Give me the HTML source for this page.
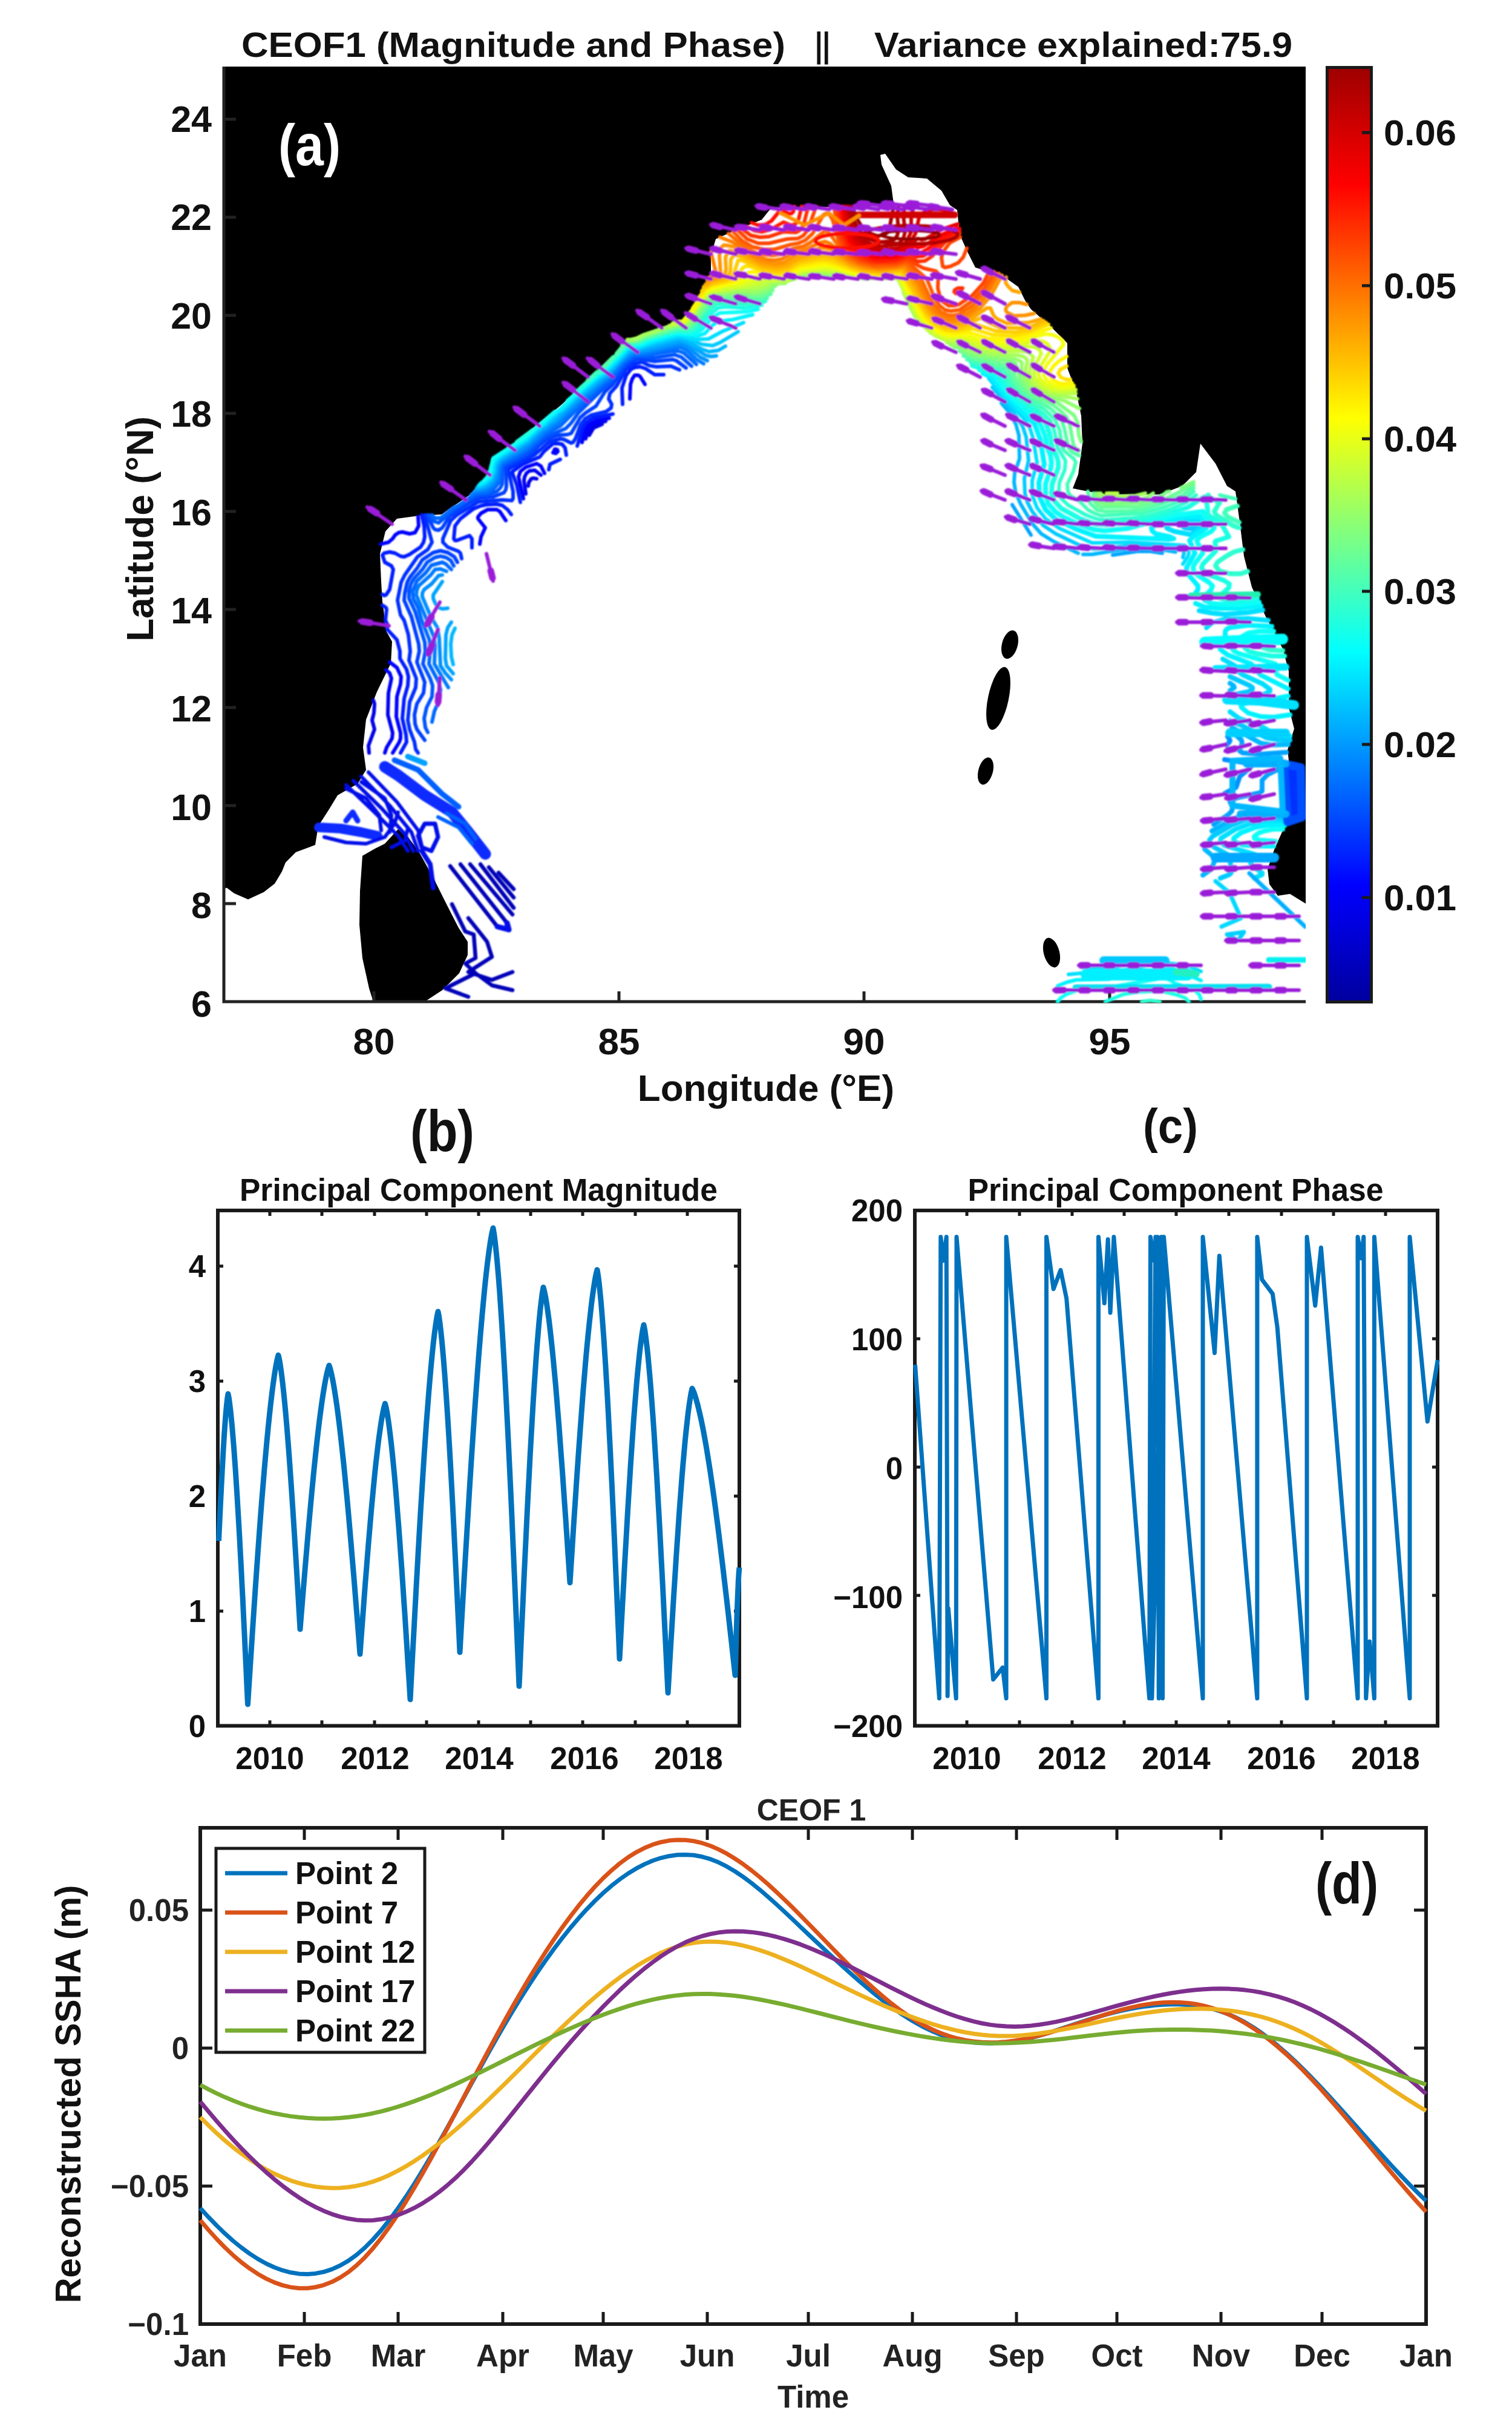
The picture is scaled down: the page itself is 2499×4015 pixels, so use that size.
<!DOCTYPE html>
<html><head><meta charset="utf-8"><title>CEOF1</title>
<style>html,body{margin:0;padding:0;background:#fff}svg{display:block}</style></head>
<body><svg width="2499" height="4015" viewBox="0 0 2499 4015">
<rect width="2499" height="4015" fill="#fff"/>
<rect x="368" y="110" width="1790" height="1545" fill="#000"/>
<polygon points="368,1655 368,1468 375,1467 387,1476 410,1486 436,1474 454,1460 466,1440 472,1425 489,1408 521,1396 526,1365 544,1337 558,1314 591,1295 605,1272 600,1235 605,1189 623,1143 646,1096 648,1060 639,1044 632,994 630,961 628,915 637,878 656,857 693,852 730,850 776,818 808,785 813,757 843,738 889,701 929,668 972,628 1012,592 1038,562 1081,546 1131,529 1150,500 1164,473 1175,454 1175,422 1183,395 1219,379 1259,363 1275,343 1338,343 1417,341 1477,337 1473,307 1457,272 1455,256 1463,254 1481,280 1501,293 1532,295 1556,315 1570,339 1582,347 1586,387 1598,414 1612,442 1632,448 1655,454 1683,474 1695,498 1704,511 1736,539 1764,567 1764,608 1778,645 1787,687 1789,733 1782,784 1773,807 1824,817 1917,817 1954,803 1977,780 1984,733 2009,766 2028,803 2042,812 2049,863 2056,919 2069,970 2093,1021 2120,1072 2130,1109 2130,1169 2139,1204 2128,1239 2135,1300 2123,1366 2107,1401 2095,1436 2098,1461 2112,1480 2132,1477 2158,1493 2158,1655" fill="#fff" />
<polygon points="599,1414 620,1402 636,1394 658,1370 674,1383 691,1405 716,1450 738,1494 758,1533 773,1556 773,1578 759,1608 731,1636 702,1655 617,1655 610,1633 599,1583 594,1528 595,1472" fill="#000" />
<ellipse cx="1669" cy="1065" rx="13" ry="24" transform="rotate(15 1669 1065)" fill="#000"/>
<ellipse cx="1650" cy="1154" rx="17" ry="53" transform="rotate(12 1650 1154)" fill="#000"/>
<ellipse cx="1629" cy="1274" rx="12" ry="23" transform="rotate(15 1629 1274)" fill="#000"/>
<ellipse cx="1738" cy="1574" rx="13" ry="25" transform="rotate(-15 1738 1574)" fill="#000"/>
<path d="M370,110 V1655 H2158" fill="none" stroke="#222" stroke-width="5"/>
<path d="M618,1655 v-17 M1023,1655 v-17 M1428,1655 v-17 M1834,1655 v-17 M370,1493 h20 M370,1331 h20 M370,1169 h20 M370,1007 h20 M370,845 h20 M370,683 h20 M370,521 h20 M370,359 h20 M370,197 h20 " fill="none" stroke="#222" stroke-width="5"/>
<defs><filter id="soft" x="-2%" y="-2%" width="104%" height="104%"><feGaussianBlur stdDeviation="1.3"/></filter><clipPath id="mapclip"><rect x="368" y="110" width="1790" height="1547"/></clipPath></defs>
<g clip-path="url(#mapclip)"><g filter="url(#soft)">
<g fill="none" stroke-width="6" stroke-linecap="round" stroke-linejoin="round">
<path d="M995,701 981,707 974,719M887,791 881,790 878,791 874,797 873,803M610,1244 609,1232 619,1205 615,1190 618,1178 619,1163 617,1157" stroke="#0000e5"/>
<path d="M1001,696 986,699 977,704 971,713 968,725M894,785 884,777 875,778 870,782 867,788 866,794 869,816M636,1244 639,1235 648,1220 649,1211 641,1181 642,1145 647,1121 644,1112 638,1107" stroke="#0000f4"/>
<path d="M1066,635 1058,622 1055,620 1049,620 1045,626 1042,635 1041,659M1007,691 986,695 973,701 967,710 962,731M919,749 922,746 921,743 917,742 914,748 919,749M900,782 894,770 887,766 869,772 860,779 857,788 865,824M836,860 826,845 821,842 806,842 795,848 790,854 790,857 802,872 795,887 793,899M629,899 642,896 649,890 653,884 659,880 665,879 677,882 686,880 692,869 691,854M649,1244 660,1226 662,1220 662,1211 655,1184 656,1151 662,1130 663,1118 656,1103 644,1094" stroke="#0006ff"/>
<path d="M1097,619 1082,619 1067,609 1058,606 1049,607 1043,610 1035,620 1028,641 1029,668M1013,684 980,691 969,698 963,707 954,737M936,752 934,740 929,734 923,733 914,733 899,746 892,755 864,767 847,779 847,782 854,801 860,830M907,776 909,767 926,759M845,850 839,842 830,835 821,833 803,834 794,836 782,841 761,857 752,869 750,890 752,893 755,893 776,885 780,890 780,905M632,982 635,984 638,983 644,974 650,941 647,935 636,929 632,917 635,914 644,912 653,914 662,919 668,920 677,916 695,904 700,896 702,887 701,869 697,851M662,1244 672,1226 671,1214 665,1187 668,1154 674,1133 675,1118 672,1106 661,1088 661,1076 656,1057 640,1040 640,1031 637,1025 639,1007 638,1004 632,1000" stroke="#001aff"/>
<path d="M1123,611 1109,605 1085,606 1073,604 1061,598 1043,603 1034,611 1019,638 1008,650 1006,659 1011,668 1010,674 1002,680 977,686 967,692 960,701 951,725 947,731 944,732 932,726 926,725 908,730 884,751 842,774 840,776 848,812 848,824 846,827 830,826 791,829 755,851 745,860 732,890 732,896 740,904 758,911 761,914 763,923M691,1244 687,1238 685,1226 677,1205 674,1190 677,1160 687,1136 688,1121 676,1091 678,1076 675,1049 668,1025 662,1016 657,992 663,962 669,950 690,920 707,908 714,896 702,851" stroke="#002dff"/>
<path d="M1134,608 1118,596 1112,594 1082,597 1055,593 1043,598 1031,608 1013,635 1000,647 985,671 968,682 959,690 944,716 938,718 923,719 905,725 890,737 881,747 836,772 837,803 836,809 833,814 815,821 791,823 776,831 743,853 731,872 725,876 719,875 716,872 706,851M702,1223 689,1205 686,1196 685,1181 689,1163 700,1145 702,1127 689,1094 693,1076 692,1064 680,1019 668,992 669,980 673,962 678,953 690,938 698,925 716,913 728,910 740,913 751,920 756,929" stroke="#0041ff"/>
<path d="M1143,605 1126,590 1115,586 1082,591 1052,589 1040,596 1028,607 1010,631 1001,638 956,682 944,699 935,708 902,722 887,734 881,741 866,752 833,769 831,773 830,800 827,806 821,812 809,817 794,818 785,820 749,843 725,864 716,861 709,851M707,1210 703,1202 701,1187 705,1169 714,1151 715,1133 711,1121 699,1097 703,1076 702,1061 686,1010 676,989 676,977 679,965 684,956 698,941 706,929 719,921 728,919 737,921 745,926 750,935" stroke="#0055ff"/>
<path d="M1151,602 1130,583 1121,580 1112,580 1067,587 1048,587 1031,599 1007,629 998,635 959,671 926,704 899,719 878,738 863,749 831,767 828,773 828,782 825,797 815,809 806,814 791,815 782,818 758,835 749,839 728,856 719,856 714,851M714,1193 718,1175 726,1157 728,1139 725,1127 709,1097 711,1073 710,1058 697,1025 691,1004 683,989 682,977 689,960 704,946 713,934 731,929 737,932 746,941" stroke="#0069ff"/>
<path d="M1163,601 1151,594 1134,578 1124,574 1112,574 1064,584 1046,585 1028,599 1004,627 996,632 959,665 923,699 899,715 875,737 862,746 830,764 826,770 822,794 815,803 803,811 788,812 779,817M741,1136 718,1097 719,1067 717,1052 688,983 689,975 692,968 712,950 719,941 728,940 738,944" stroke="#007cff"/>
<path d="M1169,596 1157,590 1136,573 1124,568 1064,581 1046,582 1043,583 1025,599 1004,623 957,662 920,697 896,713 875,733 860,744 827,763 823,770 820,791 812,801 800,808 785,811M746,1123 736,1112 728,1100 726,1055 723,1037 712,1019 698,986 698,980 701,974 713,965 725,951 731,950" stroke="#0090ff"/>
<path d="M2027,1231 2032,1226 2033,1223 2029,1217M2024,1311 2043,1301 2049,1283 2067,1268 2068,1265 2057,1260 2024,1255" stroke="#0090ff" stroke-width="8"/>
<path d="M1184,588 1175,589 1166,587 1136,568 1124,564 1061,579 1042,581 1025,596 1001,623 995,626 956,659 917,695 911,698 902,707 896,709 872,732 827,760 821,770 820,779 815,794 803,804 788,808M1704,884 1673,834M1921,914 1901,911 1880,911 1839,917M740,1005 731,1006 725,1004 720,998 716,989 716,983 731,961M749,1113 738,1100 736,1088 737,1049 740,1037 746,1028" stroke="#00a4ff"/>
<path d="M2126,1243 2084,1246 2054,1244 2049,1241 2049,1238 2053,1229 2052,1223 2042,1214 2031,1208M2006,1362 2030,1346 2036,1340 2037,1334 2033,1325 2035,1322 2045,1318 2082,1310 2086,1307 2086,1289 2095,1280 2111,1272 2129,1268" stroke="#00a4ff" stroke-width="8"/>
<path d="M1199,572 1187,579 1172,581 1160,577 1133,563 1121,560 1070,573 1061,576 1046,577 1040,580 1000,620 952,659 916,692 893,709 872,729 824,760 818,770 818,779 812,794 803,801 794,805 788,806M1782,914 1742,895 1721,882 1706,865 1687,833 1679,815 1676,797 1677,782 1685,758 1684,719 1679,701 1667,680 1655,666M1943,912 1913,907 1877,906 1847,909 1805,916 1790,916M749,1098 746,1085 745,1064 747,1049 752,1038" stroke="#00b8ff"/>
<path d="M2033,1141 2040,1136 2039,1133 2033,1129M2129,1230 2102,1231 2084,1228 2036,1202M2003,1373 2036,1354 2060,1345 2078,1344 2126,1347M1988,1446 2002,1436 2007,1424 2005,1415 1991,1403" stroke="#00b8ff" stroke-width="8"/>
<path d="M1220,548 1190,566 1178,571 1160,569 1133,559 1121,557 1079,568 1058,575 1039,578 998,620 992,622 952,656 929,678 923,681 899,703 893,706 870,728 824,757 818,767 816,779 811,791 803,798 791,804M1955,921 1957,914 1955,908 1940,905 1874,901 1808,907 1793,905 1745,882 1724,868 1706,845 1698,830 1694,815 1693,791 1700,761 1696,722 1690,704 1672,677 1640,640M1787,1598 1829,1600 1908,1586" stroke="#00cbff"/>
<path d="M1977,872 1979,869 1976,867 1964,867 1954,869 1958,872 1973,874 1977,872M2033,1149 2063,1143 2070,1139 2070,1136 2066,1133 2033,1118M2132,1223 2111,1222 2093,1219 2053,1199 2033,1191M2017,1451 2032,1445 2035,1442 2033,1418 2029,1412 2007,1400 2000,1394 1999,1388 2004,1382 2036,1363 2060,1354 2081,1352 2126,1354" stroke="#00cbff" stroke-width="8"/>
<path d="M1229,533 1193,548 1171,560 1151,561 1121,554 1079,565 1058,573 1043,574 1037,577 998,617 989,623 946,659 927,677 921,680 899,701 893,704 869,726 824,755 818,761 815,768 814,779 809,791 800,798 791,802M1955,932 1963,920 1965,914 1964,908 1958,901 1868,896 1805,897 1751,873 1728,857 1714,839 1706,818 1706,794 1714,764 1707,722 1702,707 1695,695 1657,653 1634,625M1766,1610 1787,1608 1832,1608 1901,1594 1928,1591 1962,1595 1985,1605" stroke="#00dfff"/>
<path d="M1973,881 1982,875 1986,869 1985,863 1982,860 1952,860 1940,863 1928,869 1928,872 1931,874 1941,878 1967,883 1973,881M2087,1008 2063,1012 2024,1015 2003,1013 1982,1009M1994,1037 2003,1029 2024,1023 2063,1022 2096,1025M2033,1158 2045,1154 2087,1148 2096,1144 2099,1142 2099,1139 2087,1130 2054,1115 2046,1109 2041,1100 2021,1089M2132,1216 2117,1215 2103,1211 2083,1199 2048,1187 2033,1176M2073,1451 2086,1445 2086,1442 2072,1433 2067,1427 2068,1424 2075,1415 2075,1412 2024,1397 2017,1391 2018,1385 2042,1370 2066,1361 2090,1358 2123,1359" stroke="#00dfff" stroke-width="8"/>
<path d="M1244,520 1211,528 1187,531 1178,537 1165,551 1154,555 1118,552 1076,564 1058,571 1043,572 1037,575 995,617 989,620 950,653 926,676 905,691 896,701 890,704 868,725 821,755 813,767 813,776 809,788 794,799M1748,1629 1763,1623 1779,1619 1832,1618 1925,1600 1940,1601 1985,1620" stroke="#00f3ff"/>
<path d="M1973,984 1980,974 1980,968 1962,947 1961,938 1975,914 1966,893 1972,887 1994,872 1994,866 1985,854 1961,854 1943,857 1916,864 1903,872 1904,877 1910,882 1934,887 1940,890 1931,891 1811,886 1778,874 1745,858 1728,842 1718,821 1717,797 1726,767 1719,725 1710,701 1661,651 1639,623 1625,617M2084,1001 2048,1005 2012,1005 1991,1003 1976,997M2129,1138 2083,1115 2068,1097 2029,1082 2017,1073 2016,1067 2025,1052 2025,1043 2027,1040 2032,1037 2063,1033 2102,1035M2132,1181 2105,1185 2084,1184 2063,1178 2052,1169 2051,1166 2055,1163 2063,1161 2105,1155 2129,1150M2105,1398 2075,1398 2054,1396 2041,1391 2039,1388 2039,1385 2051,1376 2075,1367 2096,1363 2123,1364" stroke="#00f3ff" stroke-width="8"/>
<path d="M1253,511 1235,515 1190,517 1178,524 1160,545 1151,551 1142,552 1118,550 1076,561 1058,569 1043,571 1037,573 995,615 989,618 938,662M917,680 866,724 815,757 808,785 800,794M1748,1655 1753,1649 1762,1643 1787,1634 1802,1633 1817,1635 1835,1633 1847,1629 1922,1616 1931,1618 1943,1625 1973,1635 1982,1643 1985,1651" stroke="#08fff7"/>
<path d="M2081,995 2051,999 2021,999 2003,997 1991,992 1990,986 2002,974 2004,968 1998,962 1979,950 1973,944 1972,938 1974,932 1988,914 1987,908 1980,899 1978,893 1984,887 2002,878 2007,872 2005,866 1991,854 1988,845 1940,852 1865,873 1826,877 1808,875 1782,866 1757,854 1745,846 1733,833 1728,818 1728,800 1737,773 1738,764 1736,752 1730,737 1727,719 1718,698 1667,651 1644,620 1619,611M2129,1124 2111,1115 2108,1109 2110,1100 2108,1097 2048,1080 2040,1076 2035,1070 2042,1060 2054,1051 2063,1046 2081,1043 2105,1043M2108,1390 2081,1388 2073,1385 2073,1382 2081,1376 2090,1373 2104,1370 2120,1370" stroke="#08fff7" stroke-width="8"/>
<path d="M1259,504 1232,509 1196,507 1187,509 1172,521 1155,542 1148,547 1139,549 1118,548 1076,559 1055,568 1040,570 1032,575 994,614 988,617 950,649M881,710 854,730M1827,1655 1856,1643 1880,1639 1904,1638 1922,1638 1946,1644 1959,1649 1965,1655" stroke="#1bffe4"/>
<path d="M2078,988 2042,992 2027,992 2018,989 2016,986 2018,983 2031,971 2032,965 2023,959 1997,949 1987,941 1986,938 1988,932 2009,911 2010,905 2008,896 2009,894 2031,887 2019,866 1997,851 1994,827 1991,821 1980,827 1964,838 1931,849 1880,861 1829,867 1811,866 1787,858 1754,840 1742,827 1738,815 1739,800 1749,773 1749,764 1747,755 1739,740 1735,716 1728,698 1717,686 1673,650 1648,617 1607,604M2123,1084 2102,1084 2078,1080 2064,1076 2057,1070 2060,1064 2075,1056 2090,1053 2108,1052" stroke="#1bffe4" stroke-width="8"/>
<path d="M1265,498 1253,501 1229,503 1193,501 1184,503 1169,517 1151,540 1144,545 1136,547 1118,546 1076,558 1055,566 1040,569 1031,574 992,614 986,617 959,641M1977,818 1961,830 1931,843 1895,853 1871,856 1826,859 1814,858 1795,851 1766,835 1754,824 1750,809 1751,797 1760,776 1761,761 1748,740 1743,713 1736,695 1724,683 1690,659 1676,647 1653,614 1604,599M1887,1655 1901,1653 1917,1655" stroke="#2fffd0"/>
<path d="M2048,872 2039,869 2010,851 2007,845 2016,830 2000,823 1997,818M2062,944 2051,948 2033,948 2015,943 2009,935 2012,929 2025,920 2039,912 2054,908M2120,1075 2099,1074 2087,1070 2087,1067 2093,1064 2114,1062" stroke="#2fffd0" stroke-width="8"/>
<path d="M1268,493 1250,498 1190,497 1181,499 1165,515 1148,538 1142,542 1136,544 1118,544 1067,559 1055,565 1040,567 1031,572 1027,578 992,612 986,615 971,629M1973,812 1961,822 1949,828 1928,837 1889,848 1820,852 1811,849 1799,843 1783,827 1769,819 1765,812 1764,800 1774,779 1778,764 1775,758 1760,746 1756,740 1751,710 1743,692 1727,677 1697,658 1683,647 1673,635 1659,611 1598,594M2042,824 2016,818" stroke="#43ffbc"/>
<path d="M2048,863 2029,854 2024,848 2027,842 2045,836" stroke="#43ffbc" stroke-width="8"/>
<path d="M1274,486 1262,491 1250,494 1181,494 1174,500 1146,536 1139,541 1118,542 1073,556 1055,563 1040,566 1029,572 1019,584M1784,753 1772,747 1766,740 1759,707 1754,692 1735,674 1702,656 1686,644 1675,629 1665,608 1610,594 1592,588M1013,590 995,608M1973,806 1955,818 1925,831 1889,842 1865,844 1826,845 1814,843 1802,832 1798,812" stroke="#56ffa9"/>
<path d="M1383,458 1361,456 1335,458M1277,480 1265,487 1253,490 1232,489 1181,491 1172,497 1145,533 1138,539 1115,541 1064,557 1055,562 1040,564 1028,571M1784,745 1777,740 1774,734 1768,701 1763,689 1754,680 1739,668 1706,653 1691,642 1679,626 1672,605 1610,591 1586,580M1973,801 1925,825 1892,835 1880,837 1820,838 1814,835 1810,830 1807,824 1807,815" stroke="#6aff95"/>
<path d="M1394,458 1361,454 1326,458M1283,471 1271,480 1256,485 1244,486 1229,485 1178,489 1169,496 1142,533 1136,538 1115,539 1064,555 1055,561 1040,563 1031,567M1787,730 1783,719 1781,698 1775,686 1747,665 1715,653 1697,641 1686,626 1679,601 1673,598 1610,587 1595,581 1583,574 1577,574M1973,796 1952,806M1933,812 1928,813 1922,818 1889,830 1838,833 1823,832 1817,830 1813,824 1811,815" stroke="#7eff81"/>
<path d="M1403,458 1379,453 1361,452 1328,455 1322,458M1298,468 1280,469 1268,477 1253,482 1241,483 1226,482 1178,486 1170,491 1142,530 1135,536 1115,538 1064,554 1055,559 1037,563M1784,675 1759,662 1718,650 1704,641 1692,626 1688,614 1689,599 1685,596 1677,593 1616,585 1601,580 1586,572 1571,570M1906,815 1895,822 1886,825 1835,827 1820,825 1815,815" stroke="#92ff6d"/>
<path d="M1431,461 1376,451 1349,450 1328,453 1313,461 1301,465 1277,467 1265,474 1253,478 1238,479 1220,479 1175,485 1169,489 1139,530 1133,535 1115,536 1064,553 1052,559 1043,561 1037,561M1505,509 1493,483M1513,524 1505,509M1781,659 1730,650 1718,645 1707,638 1702,632 1697,623 1695,611 1698,596 1697,593 1691,589 1682,587 1658,586 1622,582 1604,577 1586,568 1565,566M1893,815 1877,819 1835,821 1823,819 1819,815" stroke="#a5ff5a"/>
<path d="M1487,467 1484,461 1481,460 1436,460 1370,448 1355,447 1328,450 1310,460 1298,464 1274,464 1262,471 1250,474 1217,476 1172,484 1167,488 1136,531 1130,534 1115,535 1106,538M1539,551 1526,538 1514,521 1487,467M1778,650 1760,650 1736,647 1724,643 1711,635 1705,626 1702,617 1703,605 1708,590 1700,582 1688,580 1652,581 1622,577 1604,572 1589,565 1562,562 1544,554M1847,815 1829,815" stroke="#b9ff46"/>
<path d="M1778,644 1757,646 1739,644 1727,640 1716,632 1710,623 1709,614 1712,602 1721,584 1718,578 1712,574 1697,572 1664,576 1628,574 1610,570 1592,562 1562,559 1544,551 1530,539 1517,522 1484,458 1451,459 1433,458 1367,445 1325,448 1313,456 1300,461 1271,462 1244,470 1172,482 1165,488 1136,528 1130,533 1112,534" stroke="#cdff32"/>
<path d="M1775,641 1757,642 1742,641 1729,635 1719,626 1716,617 1718,608 1737,578 1732,569 1724,564 1712,563 1673,571 1640,570 1616,566 1595,558 1565,557 1547,550 1532,537 1520,522 1487,459 1484,456 1436,457 1412,453 1376,443 1361,442 1325,446 1310,455 1295,459 1265,458 1225,470 1186,476 1169,481 1135,527 1130,531 1121,531" stroke="#e1ff1e"/>
<path d="M1775,637 1760,639 1745,637 1731,629 1725,620 1726,611 1730,603 1758,569 1756,563 1749,557 1739,553 1727,552 1685,564 1655,566 1625,563 1598,554 1574,555 1556,551 1538,540 1524,524 1487,454 1451,456 1436,455 1412,451 1376,440 1361,439 1325,443 1310,452 1295,457 1256,455 1238,460 1220,467 1181,475 1169,479 1162,485 1154,500 1130,529" stroke="#f4ff0b"/>
<path d="M1737,542 1694,557 1670,561 1634,559 1601,549 1577,552 1562,550 1544,541 1529,526 1518,509 1487,452 1451,454 1433,453 1364,435 1322,441 1307,450 1292,455 1268,453 1253,449 1238,450 1217,464 1179,473 1166,479 1145,509M1772,633 1757,634 1748,632 1739,626 1735,620 1736,612 1742,604 1751,596 1763,589" stroke="#fff600"/>
<path d="M1733,536 1697,551 1673,555 1640,553 1607,543 1580,548 1562,546 1544,537 1529,521 1490,451 1451,453 1433,451 1412,447 1379,435 1364,431 1352,432 1322,438 1304,448 1289,452 1265,450 1239,440 1232,440 1227,443 1220,455 1214,461 1208,464 1178,471 1166,477 1154,493M1769,627 1763,627 1754,624 1749,617 1752,611 1763,605" stroke="#ffe200"/>
<path d="M1729,533 1703,545 1679,549 1646,547 1613,536 1586,544 1574,545 1562,543 1547,535 1532,520 1490,448 1454,451 1432,449 1412,444 1376,430 1364,427 1352,428 1322,434 1301,446 1286,449 1262,446 1226,430 1220,430 1213,452 1208,459 1202,463 1174,470 1163,477 1160,481" stroke="#ffce00"/>
<path d="M1725,530 1706,539 1685,542 1652,541 1634,533 1622,525 1589,539 1574,541 1562,539 1547,531 1532,515 1493,447 1490,446 1451,449 1430,447 1409,441 1376,425 1364,422 1352,423 1319,431 1301,442 1283,445 1259,441 1226,424 1214,421 1208,428 1207,449 1202,458 1198,461 1178,466 1163,474" stroke="#ffbb00"/>
<path d="M1720,527 1700,533 1664,534 1648,527 1642,521 1637,509 1631,509 1605,527 1593,533 1577,536 1562,535 1547,526 1535,513 1513,473 1493,443 1454,447 1430,444 1406,437 1376,420 1364,416 1352,417 1319,427 1301,437 1283,441 1259,437 1220,416 1205,414 1199,425 1200,446 1197,455 1193,459 1175,464 1166,470M1663,458 1662,467 1666,473 1673,480 1685,483" stroke="#ffa700"/>
<path d="M1656,455 1638,488 1620,509 1595,527 1574,532 1556,527 1541,515 1532,502 1516,470 1499,446 1493,441 1454,445 1427,442 1406,434 1373,412 1364,409 1355,410 1316,422 1295,434 1280,436 1256,432 1214,408 1205,406 1196,405 1191,410 1189,422 1191,452 1186,458 1169,464M1709,518 1694,521 1676,522 1664,516 1662,512 1664,506 1673,500 1685,500 1697,503" stroke="#ff9300"/>
<path d="M1651,452 1634,482 1622,498 1611,509 1599,518 1588,524 1577,527 1568,527 1556,522 1544,512 1535,498 1519,467 1496,438 1481,441 1451,443 1424,438 1401,428 1373,403 1364,399 1355,401 1330,413 1313,417 1292,428 1280,430 1268,429 1247,423 1211,400 1190,392M1175,416 1183,449 1180,455 1172,458" stroke="#ff7f00"/>
<path d="M1647,452 1628,482 1607,505 1586,519 1577,521 1568,521 1556,516 1547,507 1538,494 1524,464 1499,437 1496,435 1481,439 1448,441 1418,434 1403,425 1392,416 1373,388 1367,382 1361,383 1339,401 1328,407 1310,411 1292,420 1277,422 1256,420 1244,415 1226,404 1204,386" stroke="#ff6c00"/>
<path d="M1643,449 1628,474 1607,497 1586,512 1571,514 1562,512 1553,505 1544,491 1532,461 1499,432 1478,437 1445,438 1421,432 1404,422 1395,413 1387,401 1376,363 1370,353 1367,352 1361,355 1343,386 1331,397 1319,402 1307,404 1280,412 1262,412 1244,408 1227,398 1211,382" stroke="#ff5800"/>
<path d="M1349,341 1335,380 1328,389 1319,394 1301,395 1271,402 1253,402 1235,395 1217,378M1635,449 1625,468 1607,488 1585,503 1577,505 1568,505 1559,499 1553,488 1550,476 1551,452 1547,448 1526,443 1499,429 1481,434 1445,435 1424,430 1405,419 1395,407 1389,395 1378,341M1587,392 1570,401 1561,413 1556,425 1558,440 1562,442 1571,440 1584,434 1592,425 1598,410" stroke="#ff4400"/>
<path d="M1336,341 1328,372 1323,380 1316,384 1295,383 1271,391 1256,392 1241,389 1225,377M1586,386 1564,398 1541,423 1529,431 1517,432 1502,425 1478,432 1454,433 1439,432 1415,422 1404,413 1397,404 1390,383 1384,341M1580,485 1577,482 1578,479 1583,476 1591,476 1587,482 1580,485" stroke="#ff3000"/>
<path d="M1325,341 1320,362 1317,368 1313,371 1307,372 1295,367 1274,379 1259,383 1247,381 1234,374M1586,382 1561,395 1535,418 1526,423 1514,424 1505,420 1481,429 1454,431 1442,429 1418,420 1409,413 1402,404 1393,383 1388,341" stroke="#ff1d00"/>
<path d="M1313,341 1311,350 1308,353 1304,353 1292,347 1289,348 1275,365 1265,371 1253,372 1242,368M1586,378 1562,390 1532,412 1523,417 1517,418 1505,415 1493,422 1481,426 1445,427 1421,418 1411,410 1404,401 1396,380 1390,341" stroke="#ff0900"/>
<path d="M1583,376 1556,388 1526,407 1517,409 1511,407 1487,421 1475,424 1445,424 1430,419 1421,414 1406,398 1398,377 1393,341" stroke="#f70000"/>
<path d="M1583,370 1559,378 1529,395 1523,396 1517,394 1514,396 1501,410 1487,418 1475,420 1448,421 1427,413 1418,407 1411,398 1401,377 1395,341" stroke="#e80000"/>
<path d="M1580,355 1568,349 1556,346 1541,346 1529,350 1520,355 1513,386 1506,398 1498,407 1488,413 1478,416 1451,417 1430,410 1421,404 1413,395 1403,372 1397,341" stroke="#d90000"/>
<path d="M1512,341 1506,353 1506,383 1499,398 1493,404 1483,410 1457,413 1436,408 1427,403 1418,394 1412,386 1406,372 1400,341" stroke="#ca0000"/>
<path d="M1495,341 1493,356 1496,383 1493,394 1487,401 1481,404 1457,407 1439,403 1429,398 1421,390 1409,369 1402,341" stroke="#bb0000"/>
<path d="M1485,341 1483,356 1485,380 1483,389 1479,395 1473,398 1454,400 1437,395 1422,383 1412,366 1405,341" stroke="#ac0000"/>
<path d="M1477,341 1469,382 1463,387 1451,390 1436,385 1424,374 1415,359 1409,341" stroke="#9e0000"/>
</g>
<g fill="none" stroke-linecap="round" stroke-linejoin="round">
<path d="M636,1267 658,1281 702,1314 747,1342 774,1375 802,1411" stroke="#0a2cff" stroke-width="19"/>
<path d="M652,1256 691,1272 730,1311 758,1333" stroke="#0060ff" stroke-width="9"/>
<path d="M674,1250 702,1261" stroke="#00a0ff" stroke-width="9"/>
<path d="M572,1297 619,1342 658,1381 674,1406M584,1290 631,1336 669,1378 683,1406M597,1283 644,1331 680,1375 691,1406M609,1276 656,1325 691,1372 699,1406" stroke="#0008e8" stroke-width="6"/>
<path d="M691,1381 702,1361 719,1361 724,1383 713,1406 697,1400 691,1381" stroke="#0008e8" stroke-width="7"/>
<path d="M724,1350 758,1367 780,1394M738,1344 769,1361 786,1386" stroke="#0060ff" stroke-width="6"/>
<path d="M527,1367 563,1369 597,1375 624,1381" stroke="#0a2cff" stroke-width="16"/>
<path d="M572,1356 583,1342 591,1356" stroke="#0a2cff" stroke-width="9"/>
<path d="M536,1383 572,1392 605,1394 636,1383 652,1361 658,1342M572,1303 605,1319 627,1347 630,1372M597,1292 636,1319 647,1347 644,1375M647,1400 669,1389 674,1369" stroke="#0008e8" stroke-width="6"/>
<path d="M744,1431 822,1531M761,1428 838,1525M777,1428 847,1511M794,1428 849,1500M808,1433 849,1483M824,1442 849,1469" stroke="#0000b8" stroke-width="6.5"/>
<path d="M822,1531 841,1536 838,1525" stroke="#0008e8" stroke-width="9"/>
<path d="M697,1406 711,1428 716,1467" stroke="#0008e8" stroke-width="8"/>
<path d="M2122,1262 L2150,1268 L2152,1350 L2128,1358 Z" stroke="#0050ff" stroke-width="14" fill="#0030ff"/>
<path d="M2060,1262 H2125 M2050,1345 H2125" stroke="#00b0ff" stroke-width="12"/>
<path d="M1968,984 2079,982" stroke="#20f0b0" stroke-width="10"/>
<path d="M1991,1061 2056,1058 2120,1056" stroke="#00ffff" stroke-width="18"/>
<path d="M2009,1105 2125,1102" stroke="#00e8ff" stroke-width="12"/>
<path d="M2028,1156 2083,1158 2139,1165" stroke="#00e0ff" stroke-width="16"/>
<path d="M2032,1211 2125,1211" stroke="#00d0ff" stroke-width="14"/>
<path d="M2009,1417 2106,1417" stroke="#00a8ff" stroke-width="16"/>
<path d="M2037,1331 2037,1257 2116,1253 2120,1341 2037,1331" stroke="#00b8ff" stroke-width="10"/>
<path d="M2065,1443 2157,1531" stroke="#00b0ff" stroke-width="7"/>
<path d="M2009,1456 2032,1475 2051,1517 2019,1531" stroke="#00d8ff" stroke-width="7"/>
<path d="M2028,1544 2056,1540 2046,1554 2028,1544" stroke="#00d0ff" stroke-width="7"/>
<path d="M2097,1586 2157,1586" stroke="#00f0f0" stroke-width="9"/>
<path d="M1778,1632 2097,1631" stroke="#00e0f0" stroke-width="11"/>
<path d="M1824,1587 1926,1587" stroke="#00c8ff" stroke-width="14"/>
<path d="M1796,1610 1963,1610" stroke="#00f0ff" stroke-width="20"/>
<path d="M1944,1606 1977,1609" stroke="#20f0c0" stroke-width="12"/>
<path d="M1418,355 H1578" stroke="#d00000" stroke-width="11"/>
<path d="M1290,352 L1330,372 L1370,352 L1395,372 L1420,356" stroke="#ff9000" stroke-width="6"/>
<ellipse cx="1505" cy="388" rx="78" ry="15" stroke="#b00000" stroke-width="6" fill="none"/>
<ellipse cx="1505" cy="388" rx="48" ry="7" stroke="#900000" stroke-width="5" fill="none"/>
<ellipse cx="1400" cy="398" rx="52" ry="12" stroke="#ff1000" stroke-width="6" fill="none"/>
<path d="M747,1494 769,1539 783,1544 786,1583 769,1592 786,1608 758,1622 736,1633 774,1647M774,1517 794,1542 805,1556 813,1581 774,1606 813,1619 847,1606M786,1608 813,1628 847,1636" stroke="#0000b8" stroke-width="6.5"/>
</g>
<path d="M2106,1068L2067,1066M2106,1109L2067,1107M2106,1150L2066,1148M2106,1190L2066,1198M2106,1230L2066,1241M2106,1271L2066,1282M2106,1312L2066,1321M2106,1352L2067,1356M2106,1392L2067,1396M2066,988L2026,987M2066,1028L2026,1027M2066,1068L2026,1066M2066,1109L2026,1107M2066,1150L2026,1148M2066,1190L2025,1196M2066,1230L2025,1241M2066,1271L2025,1281M2066,1312L2026,1319M2066,1352L2026,1356M2066,1392L2026,1396M2066,1433L2026,1436M2066,1474L2026,1476M2026,826L1985,825M2026,866L1985,866M2026,906L1985,906M2026,947L1985,947M2026,988L1985,987M2026,1028L1985,1028M2026,1068L1986,1067M2026,1109L1985,1107M2026,1150L1985,1149M2026,1190L1985,1194M2026,1230L1985,1239M2026,1271L1985,1280M2026,1312L1985,1318M2026,1352L1986,1356M2026,1392L1986,1396M2026,1433L1986,1436M2026,1474L1986,1476M1985,826L1945,825M1985,866L1945,866M1985,906L1945,906M1985,947L1945,947M1985,988L1945,987M1985,1028L1945,1028M1944,826L1904,825M1944,866L1904,866M1944,906L1904,906M1904,826L1864,824M1904,866L1864,864M1904,906L1864,905M1864,826L1824,823M1864,866L1824,864M1864,906L1824,904M1823,826L1783,823M1823,866L1783,864M1823,906L1783,904M1782,704L1744,687M1782,744L1744,727M1782,826L1743,815M1782,866L1742,861M1782,906L1742,902M1742,582L1706,562M1742,623L1706,602M1742,664L1706,643M1742,704L1704,686M1742,744L1704,727M1742,785L1704,768M1742,826L1703,811M1742,866L1702,857M1742,906L1702,900M1702,542L1664,523M1702,582L1665,562M1702,623L1665,602M1702,664L1665,643M1702,704L1664,685M1702,744L1663,728M1702,785L1663,769M1702,826L1663,811M1702,866L1662,854M1661,461L1623,443M1661,502L1624,482M1661,542L1624,523M1661,582L1624,563M1661,623L1624,603M1661,664L1624,644M1661,704L1623,685M1661,744L1623,728M1661,785L1622,769M1661,826L1622,811M1620,461L1581,450M1620,502L1583,483M1620,542L1583,523M1620,582L1583,564M1620,623L1583,604M1580,380L1540,374M1580,420L1540,415M1580,461L1540,454M1580,502L1541,489M1580,542L1542,526M1580,582L1542,565M1540,340L1500,335M1540,380L1500,375M1540,420L1500,415M1540,461L1500,455M1540,502L1500,493M1540,542L1500,530M1499,340L1459,335M1499,380L1459,376M1499,420L1459,416M1499,461L1459,455M1499,502L1459,494M1458,340L1419,335M1458,380L1419,376M1458,420L1419,416M1458,461L1419,456M1418,380L1378,375M1418,420L1378,416M1418,461L1378,455M1378,380L1338,374M1378,420L1338,415M1378,461L1338,455M1337,380L1297,374M1337,420L1297,415M1337,461L1297,455M1296,380L1257,374M1296,420L1257,415M1296,461L1256,454M1256,380L1216,374M1256,420L1216,413M1256,461L1215,452M1256,502L1215,490M1216,380L1175,371M1216,420L1175,410M1216,461L1175,451M1216,502L1174,490M1216,542L1174,524M1175,420L1134,410M1175,461L1134,451M1175,502L1134,488M1175,542L1133,517M1134,542L1094,513M1094,542L1053,513M1054,582L1012,552M1013,623L971,592M972,623L931,592M972,664L931,632M892,704L850,673M851,744L809,713M810,785L769,754M770,826L729,797M648,866L607,838M804,915L815,960M727,995L704,1034M724,1040L707,1082M727,1120L724,1165M643,1034L594,1026M1290,346L1250,340M1330,346L1291,340M1371,346L1331,340M1412,346L1372,340M1452,346L1412,340M1492,346L1453,340M1533,346L1493,340M1574,346L1534,340M2147,1514L2107,1514M2106,1514L2066,1514M2066,1514L2026,1514M2026,1514L1986,1514M2147,1554L2107,1554M2106,1554L2066,1554M2066,1554L2026,1554M2147,1595L2107,1595M2106,1595L2066,1595M1985,1595L1945,1595M1944,1595L1904,1595M1904,1595L1864,1595M1864,1595L1824,1595M1823,1595L1783,1595M2147,1636L2107,1636M2106,1636L2066,1636M2066,1636L2026,1636M2026,1636L1986,1636M1985,1636L1945,1636M1944,1636L1904,1636M1904,1636L1864,1636M1864,1636L1824,1636M1823,1636L1783,1636M1782,1636L1742,1636M2106,1433L2066,1433M2106,1474L2066,1474" fill="none" stroke="#9a1fd8" stroke-width="6" stroke-linecap="round"/>
<path d="M2082,1067L2071,1067M2082,1108L2071,1107M2082,1148L2070,1148M2081,1195L2070,1197M2081,1237L2070,1240M2081,1278L2070,1281M2081,1317L2070,1320M2082,1354L2071,1355M2082,1395L2071,1396M2041,987L2030,987M2041,1027L2030,1027M2041,1067L2030,1067M2041,1108L2030,1107M2041,1149L2030,1148M2041,1193L2029,1195M2041,1237L2029,1240M2041,1277L2029,1280M2041,1316L2030,1318M2041,1354L2030,1355M2041,1395L2030,1396M2041,1435L2030,1436M2041,1475L2030,1476M2001,825L1989,825M2001,866L1989,866M2001,906L1989,906M2001,947L1989,947M2001,987L1989,987M2001,1028L1989,1028M2001,1068L1990,1067M2001,1108L1989,1107M2001,1149L1989,1149M2000,1192L1989,1194M2000,1236L1989,1238M2000,1276L1989,1279M2000,1316L1989,1317M2001,1355L1990,1356M2001,1395L1990,1396M2001,1435L1990,1436M2001,1475L1990,1476M1960,825L1949,825M1960,866L1949,866M1960,906L1949,906M1960,947L1949,947M1960,987L1949,987M1960,1028L1949,1028M1920,825L1908,825M1920,866L1908,866M1920,906L1908,906M1879,824L1868,824M1879,865L1868,864M1879,905L1868,905M1839,824L1828,824M1839,865L1828,864M1839,905L1828,904M1798,824L1787,823M1798,865L1787,864M1798,905L1787,904M1759,693L1748,688M1759,734L1748,729M1758,819L1747,816M1758,863L1746,862M1758,904L1746,903M1719,570L1709,564M1719,610L1709,604M1719,651L1709,645M1718,693L1708,688M1718,734L1707,729M1718,775L1707,770M1718,817L1707,813M1717,860L1706,857M1717,902L1706,900M1678,530L1668,525M1679,570L1668,564M1679,610L1669,604M1679,651L1669,645M1678,692L1668,687M1678,734L1667,729M1678,775L1667,770M1677,816L1666,812M1677,859L1666,855M1638,450L1627,444M1638,490L1627,484M1638,530L1627,525M1638,571L1627,565M1638,611L1628,605M1638,651L1628,646M1638,693L1627,687M1637,734L1627,729M1637,775L1626,771M1637,817L1626,812M1596,454L1585,451M1597,490L1587,485M1597,530L1587,525M1597,571L1587,566M1597,611L1587,606M1555,377L1544,375M1555,417L1544,415M1555,457L1544,455M1556,494L1545,490M1556,532L1546,528M1556,572L1546,567M1515,337L1504,336M1515,377L1504,376M1515,417L1504,416M1515,457L1504,455M1515,496L1504,493M1515,534L1504,531M1474,337L1463,336M1474,377L1463,376M1474,418L1463,416M1474,458L1463,456M1474,497L1463,495M1434,337L1423,336M1434,377L1423,376M1434,418L1423,417M1434,458L1423,456M1393,377L1382,376M1393,417L1382,416M1393,458L1382,456M1353,377L1342,375M1353,417L1342,415M1353,457L1342,456M1312,377L1301,375M1312,417L1301,415M1312,457L1301,455M1272,377L1261,375M1272,417L1261,415M1272,457L1260,455M1231,376L1220,375M1231,416L1220,414M1231,455L1219,453M1231,495L1219,491M1190,375L1179,372M1190,414L1179,411M1190,455L1179,452M1190,494L1179,491M1190,531L1178,526M1150,414L1138,411M1150,455L1138,452M1149,493L1138,489M1149,527L1138,520M1109,524L1098,516M1069,524L1057,516M1028,564L1016,555M987,604L976,595M947,604L935,595M947,644L935,635M866,685L854,676M825,725L814,716M785,766L773,757M745,808L733,800M623,848L612,841M811,943L814,955M713,1019L707,1030M714,1066L709,1078M725,1148L724,1160M612,1029L599,1027M1265,343L1254,341M1306,343L1295,341M1346,343L1335,341M1387,343L1376,341M1427,343L1416,341M1468,343L1457,341M1508,343L1497,341M1549,343L1538,341M2122,1514L2111,1514M2082,1514L2070,1514M2041,1514L2030,1514M2001,1514L1990,1514M2122,1554L2111,1554M2082,1554L2070,1554M2041,1554L2030,1554M2122,1595L2111,1595M2082,1595L2070,1595M1960,1595L1949,1595M1920,1595L1908,1595M1879,1595L1868,1595M1839,1595L1828,1595M1798,1595L1787,1595M2122,1636L2111,1636M2082,1636L2070,1636M2041,1636L2030,1636M2001,1636L1990,1636M1960,1636L1949,1636M1920,1636L1908,1636M1879,1636L1868,1636M1839,1636L1828,1636M1798,1636L1787,1636M1758,1636L1746,1636M2082,1433L2070,1433M2082,1474L2070,1474" fill="none" stroke="#9a1fd8" stroke-width="11" stroke-linecap="round"/>
</g></g>
<g font-family="Liberation Sans, Arial, sans-serif" font-weight="bold" font-size="58" fill="#111">
<text x="399" y="94" textLength="899" lengthAdjust="spacingAndGlyphs">CEOF1 (Magnitude and Phase)</text>
<text x="1347" y="94" textLength="25" lengthAdjust="spacingAndGlyphs">||</text>
<text x="1445" y="94" textLength="691" lengthAdjust="spacingAndGlyphs">Variance explained:75.9</text>
<text x="350" y="1680" text-anchor="end" font-size="61">6</text>
<text x="350" y="1517" text-anchor="end" font-size="61">8</text>
<text x="350" y="1355" text-anchor="end" font-size="61">10</text>
<text x="350" y="1192" text-anchor="end" font-size="61">12</text>
<text x="350" y="1030" text-anchor="end" font-size="61">14</text>
<text x="350" y="868" text-anchor="end" font-size="61">16</text>
<text x="350" y="705" text-anchor="end" font-size="61">18</text>
<text x="350" y="543" text-anchor="end" font-size="61">20</text>
<text x="350" y="380" text-anchor="end" font-size="61">22</text>
<text x="350" y="218" text-anchor="end" font-size="61">24</text>
<text x="618" y="1742" text-anchor="middle" font-size="62">80</text>
<text x="1023" y="1742" text-anchor="middle" font-size="62">85</text>
<text x="1428" y="1742" text-anchor="middle" font-size="62">90</text>
<text x="1834" y="1742" text-anchor="middle" font-size="62">95</text>
<text x="1266" y="1819" text-anchor="middle" font-size="62">Longitude (°E)</text>
<text transform="translate(253,874) rotate(-90)" text-anchor="middle" font-size="62.5">Latitude (°N)</text>
</g>
<text x="460" y="273" font-family="Liberation Sans, Arial, sans-serif" font-weight="bold" font-size="96" fill="#fff" textLength="103" lengthAdjust="spacingAndGlyphs">(a)</text>
<defs><linearGradient id="jet" x1="0" y1="1" x2="0" y2="0">
<stop offset="0.0000" stop-color="#00009e"/>
<stop offset="0.0312" stop-color="#0000b6"/>
<stop offset="0.0625" stop-color="#0000cf"/>
<stop offset="0.0938" stop-color="#0000e7"/>
<stop offset="0.1250" stop-color="#0000ff"/>
<stop offset="0.1562" stop-color="#0020ff"/>
<stop offset="0.1875" stop-color="#0040ff"/>
<stop offset="0.2188" stop-color="#0060ff"/>
<stop offset="0.2500" stop-color="#0080ff"/>
<stop offset="0.2812" stop-color="#009fff"/>
<stop offset="0.3125" stop-color="#00bfff"/>
<stop offset="0.3438" stop-color="#00dfff"/>
<stop offset="0.3750" stop-color="#00ffff"/>
<stop offset="0.4062" stop-color="#20ffdf"/>
<stop offset="0.4375" stop-color="#40ffbf"/>
<stop offset="0.4688" stop-color="#60ff9f"/>
<stop offset="0.5000" stop-color="#80ff80"/>
<stop offset="0.5312" stop-color="#9fff60"/>
<stop offset="0.5625" stop-color="#bfff40"/>
<stop offset="0.5938" stop-color="#dfff20"/>
<stop offset="0.6250" stop-color="#ffff00"/>
<stop offset="0.6562" stop-color="#ffdf00"/>
<stop offset="0.6875" stop-color="#ffbf00"/>
<stop offset="0.7188" stop-color="#ff9f00"/>
<stop offset="0.7500" stop-color="#ff8000"/>
<stop offset="0.7812" stop-color="#ff6000"/>
<stop offset="0.8125" stop-color="#ff4000"/>
<stop offset="0.8438" stop-color="#ff2000"/>
<stop offset="0.8750" stop-color="#ff0000"/>
<stop offset="0.9062" stop-color="#e70000"/>
<stop offset="0.9375" stop-color="#cf0000"/>
<stop offset="0.9688" stop-color="#b60000"/>
<stop offset="1.0000" stop-color="#9e0000"/>
</linearGradient></defs>
<rect x="2193.5" y="111.5" width="73" height="1544" fill="url(#jet)" stroke="#1a1a1a" stroke-width="5"/>
<g font-family="Liberation Sans, Arial, sans-serif" font-weight="bold" font-size="60" fill="#111">
<path d="M2265,219 h-14" stroke="#1a1a1a" stroke-width="5"/>
<text x="2287" y="240" textLength="120" lengthAdjust="spacingAndGlyphs">0.06</text>
<path d="M2265,472 h-14" stroke="#1a1a1a" stroke-width="5"/>
<text x="2287" y="493" textLength="120" lengthAdjust="spacingAndGlyphs">0.05</text>
<path d="M2265,725 h-14" stroke="#1a1a1a" stroke-width="5"/>
<text x="2287" y="746" textLength="120" lengthAdjust="spacingAndGlyphs">0.04</text>
<path d="M2265,977 h-14" stroke="#1a1a1a" stroke-width="5"/>
<text x="2287" y="998" textLength="120" lengthAdjust="spacingAndGlyphs">0.03</text>
<path d="M2265,1230 h-14" stroke="#1a1a1a" stroke-width="5"/>
<text x="2287" y="1251" textLength="120" lengthAdjust="spacingAndGlyphs">0.02</text>
<path d="M2265,1483 h-14" stroke="#1a1a1a" stroke-width="5"/>
<text x="2287" y="1504" textLength="120" lengthAdjust="spacingAndGlyphs">0.01</text>
</g>
<rect x="360" y="2000" width="862" height="851.5" fill="none" stroke="#1a1a1a" stroke-width="6"/>
<path d="M446,2851.5 v-9 M446,2000 v9 M532,2851.5 v-9 M532,2000 v9 M619,2851.5 v-9 M619,2000 v9 M705,2851.5 v-9 M705,2000 v9 M791,2851.5 v-9 M791,2000 v9 M877,2851.5 v-9 M877,2000 v9 M963,2851.5 v-9 M963,2000 v9 M1050,2851.5 v-9 M1050,2000 v9 M1136,2851.5 v-9 M1136,2000 v9 M360,2662 h9 M1222,2662 h-9 M360,2472 h9 M1222,2472 h-9 M360,2282 h9 M1222,2282 h-9 M360,2092 h9 M1222,2092 h-9 " stroke="#1a1a1a" stroke-width="5" fill="none"/>
<g font-family="Liberation Sans, Arial, sans-serif" font-weight="bold" font-size="51" fill="#111">
<text x="446" y="2923" text-anchor="middle">2010</text>
<text x="620" y="2923" text-anchor="middle">2012</text>
<text x="792" y="2923" text-anchor="middle">2014</text>
<text x="966" y="2923" text-anchor="middle">2016</text>
<text x="1138" y="2923" text-anchor="middle">2018</text>
<text x="340" y="2870" text-anchor="end">0</text>
<text x="340" y="2680" text-anchor="end">1</text>
<text x="340" y="2490" text-anchor="end">2</text>
<text x="340" y="2300" text-anchor="end">3</text>
<text x="340" y="2110" text-anchor="end">4</text>
<text x="791" y="1984" text-anchor="middle" textLength="790" lengthAdjust="spacingAndGlyphs">Principal Component Magnitude</text>
</g>
<text x="678" y="1902" font-family="Liberation Sans, Arial, sans-serif" font-weight="bold" font-size="96" fill="#111" textLength="106" lengthAdjust="spacingAndGlyphs">(b)</text>
<path d="M361.5,2546.0 L362.1,2532.3 L362.8,2518.6 L363.4,2505.0 L364.1,2491.6 L364.7,2478.3 L365.4,2465.3 L366.0,2452.5 L366.7,2440.0 L367.3,2427.8 L368.0,2415.9 L368.6,2404.4 L369.2,2393.3 L369.9,2382.7 L370.5,2372.5 L371.2,2362.8 L371.8,2353.6 L372.5,2345.0 L373.1,2336.9 L373.8,2329.5 L374.4,2322.6 L375.1,2316.5 L375.7,2311.0 L376.4,2306.4 L377.0,2303.0 L378.4,2310.2 L379.7,2319.9 L381.1,2331.4 L382.4,2344.4 L383.8,2358.8 L385.1,2374.6 L386.5,2391.6 L387.8,2409.9 L389.2,2429.3 L390.5,2449.7 L391.9,2471.2 L393.2,2493.7 L394.6,2517.1 L396.0,2541.4 L397.3,2566.4 L398.7,2592.2 L400.0,2618.6 L401.4,2645.6 L402.7,2673.1 L404.1,2701.1 L405.4,2729.4 L406.8,2758.1 L408.1,2787.0 L409.5,2816.0 L411.6,2783.4 L413.7,2750.9 L415.8,2718.6 L417.9,2686.8 L420.0,2655.3 L422.1,2624.3 L424.2,2594.0 L426.3,2564.2 L428.4,2535.3 L430.5,2507.1 L432.6,2479.8 L434.8,2453.5 L436.9,2428.2 L439.0,2404.0 L441.1,2381.0 L443.2,2359.2 L445.3,2338.7 L447.4,2319.5 L449.5,2301.8 L451.6,2285.6 L453.7,2270.9 L455.8,2258.0 L457.9,2247.1 L460.0,2239.0 L461.5,2245.3 L463.0,2253.9 L464.5,2264.1 L466.0,2275.6 L467.5,2288.3 L469.0,2302.2 L470.5,2317.3 L472.0,2333.4 L473.5,2350.5 L475.0,2368.6 L476.5,2387.6 L478.0,2407.4 L479.5,2428.1 L481.0,2449.5 L482.5,2471.6 L484.0,2494.3 L485.5,2517.7 L487.0,2541.5 L488.5,2565.8 L490.0,2590.5 L491.5,2615.6 L493.0,2640.9 L494.5,2666.4 L496.0,2692.0 L498.0,2667.3 L500.0,2642.8 L502.0,2618.4 L504.0,2594.3 L506.0,2570.6 L508.0,2547.2 L510.0,2524.2 L512.0,2501.8 L514.0,2479.9 L516.0,2458.6 L518.0,2438.0 L520.0,2418.1 L522.0,2399.0 L524.0,2380.7 L526.0,2363.3 L528.0,2346.8 L530.0,2331.3 L532.0,2316.9 L534.0,2303.5 L536.0,2291.2 L538.0,2280.1 L540.0,2270.4 L542.0,2262.1 L544.0,2256.0 L546.1,2262.7 L548.2,2271.7 L550.4,2282.4 L552.5,2294.5 L554.6,2307.9 L556.8,2322.6 L558.9,2338.4 L561.0,2355.4 L563.1,2373.4 L565.2,2392.4 L567.4,2412.4 L569.5,2433.3 L571.6,2455.1 L573.8,2477.6 L575.9,2500.9 L578.0,2524.9 L580.1,2549.4 L582.2,2574.6 L584.4,2600.1 L586.5,2626.2 L588.6,2652.5 L590.8,2679.2 L592.9,2706.0 L595.0,2733.0 L596.7,2709.6 L598.5,2686.3 L600.2,2663.1 L601.9,2640.3 L603.6,2617.7 L605.4,2595.5 L607.1,2573.7 L608.8,2552.4 L610.6,2531.6 L612.3,2511.4 L614.0,2491.8 L615.8,2472.9 L617.5,2454.8 L619.2,2437.4 L620.9,2420.9 L622.7,2405.2 L624.4,2390.5 L626.1,2376.8 L627.9,2364.1 L629.6,2352.4 L631.3,2341.9 L633.0,2332.7 L634.8,2324.8 L636.5,2319.0 L638.2,2325.8 L640.0,2335.1 L641.7,2346.1 L643.4,2358.5 L645.1,2372.2 L646.9,2387.3 L648.6,2403.5 L650.3,2420.9 L652.1,2439.3 L653.8,2458.9 L655.5,2479.4 L657.2,2500.8 L659.0,2523.1 L660.7,2546.2 L662.4,2570.1 L664.2,2594.6 L665.9,2619.8 L667.6,2645.6 L669.4,2671.8 L671.1,2698.5 L672.8,2725.5 L674.5,2752.8 L676.3,2780.3 L678.0,2808.0 L679.9,2771.7 L681.8,2735.6 L683.8,2699.8 L685.7,2664.4 L687.6,2629.5 L689.5,2595.1 L691.4,2561.3 L693.3,2528.3 L695.2,2496.1 L697.2,2464.8 L699.1,2434.5 L701.0,2405.3 L702.9,2377.2 L704.8,2350.3 L706.8,2324.8 L708.7,2300.5 L710.6,2277.8 L712.5,2256.5 L714.4,2236.8 L716.3,2218.7 L718.2,2202.5 L720.2,2188.1 L722.1,2176.0 L724.0,2167.0 L725.5,2174.9 L727.0,2185.6 L728.5,2198.2 L730.0,2212.5 L731.5,2228.3 L733.0,2245.6 L734.5,2264.3 L736.0,2284.3 L737.5,2305.6 L739.0,2328.0 L740.5,2351.6 L742.0,2376.3 L743.5,2402.0 L745.0,2428.6 L746.5,2456.1 L748.0,2484.3 L749.5,2513.3 L751.0,2543.0 L752.5,2573.2 L754.0,2603.9 L755.5,2635.0 L757.0,2666.5 L758.5,2698.1 L760.0,2730.0 L762.3,2690.3 L764.6,2650.9 L766.9,2611.7 L769.2,2573.0 L771.5,2534.8 L773.8,2497.1 L776.0,2460.2 L778.3,2424.1 L780.6,2388.9 L782.9,2354.7 L785.2,2321.6 L787.5,2289.6 L789.8,2258.9 L792.1,2229.5 L794.4,2201.5 L796.7,2175.0 L799.0,2150.1 L801.2,2126.9 L803.5,2105.3 L805.8,2085.6 L808.1,2067.8 L810.4,2052.1 L812.7,2038.8 L815.0,2029.0 L816.8,2039.6 L818.6,2054.0 L820.4,2070.9 L822.2,2090.1 L824.0,2111.4 L825.8,2134.7 L827.5,2159.8 L829.3,2186.7 L831.1,2215.3 L832.9,2245.5 L834.7,2277.2 L836.5,2310.4 L838.3,2344.9 L840.1,2380.7 L841.9,2417.7 L843.7,2455.7 L845.5,2494.7 L847.2,2534.5 L849.0,2575.2 L850.8,2616.4 L852.6,2658.3 L854.4,2700.6 L856.2,2743.2 L858.0,2786.0 L859.7,2748.7 L861.3,2711.6 L863.0,2674.8 L864.7,2638.4 L866.3,2602.5 L868.0,2567.1 L869.7,2532.4 L871.3,2498.5 L873.0,2465.4 L874.7,2433.2 L876.3,2402.0 L878.0,2372.0 L879.7,2343.1 L881.3,2315.5 L883.0,2289.2 L884.7,2264.3 L886.3,2240.9 L888.0,2219.0 L889.7,2198.7 L891.3,2180.2 L893.0,2163.5 L894.7,2148.7 L896.3,2136.2 L898.0,2127.0 L899.8,2133.8 L901.7,2143.1 L903.5,2154.0 L905.3,2166.4 L907.2,2180.1 L909.0,2195.1 L910.8,2211.3 L912.7,2228.7 L914.5,2247.1 L916.3,2266.6 L918.2,2287.0 L920.0,2308.4 L921.8,2330.7 L923.7,2353.7 L925.5,2377.6 L927.3,2402.1 L929.2,2427.2 L931.0,2452.9 L932.8,2479.1 L934.7,2505.7 L936.5,2532.7 L938.3,2559.9 L940.2,2587.4 L942.0,2615.0 L943.9,2585.7 L945.8,2556.6 L947.6,2527.8 L949.5,2499.2 L951.4,2471.0 L953.2,2443.3 L955.1,2416.0 L957.0,2389.4 L958.9,2363.4 L960.8,2338.2 L962.6,2313.8 L964.5,2290.2 L966.4,2267.5 L968.2,2245.9 L970.1,2225.2 L972.0,2205.7 L973.9,2187.3 L975.8,2170.2 L977.6,2154.3 L979.5,2139.7 L981.4,2126.6 L983.2,2115.1 L985.1,2105.2 L987.0,2098.0 L988.5,2107.0 L990.1,2119.2 L991.6,2133.6 L993.2,2149.9 L994.7,2168.0 L996.2,2187.8 L997.8,2209.1 L999.3,2232.0 L1000.9,2256.3 L1002.4,2281.9 L1004.0,2308.9 L1005.5,2337.0 L1007.0,2366.4 L1008.6,2396.8 L1010.1,2428.1 L1011.7,2460.4 L1013.2,2493.6 L1014.8,2527.4 L1016.3,2561.9 L1017.8,2597.0 L1019.4,2632.5 L1020.9,2668.4 L1022.5,2704.6 L1024.0,2741.0 L1025.7,2709.8 L1027.3,2678.7 L1029.0,2647.9 L1030.7,2617.4 L1032.3,2587.3 L1034.0,2557.6 L1035.7,2528.6 L1037.3,2500.1 L1039.0,2472.4 L1040.7,2445.5 L1042.3,2419.4 L1044.0,2394.2 L1045.7,2370.0 L1047.3,2346.9 L1049.0,2324.9 L1050.7,2304.0 L1052.3,2284.4 L1054.0,2266.1 L1055.7,2249.1 L1057.3,2233.6 L1059.0,2219.6 L1060.7,2207.2 L1062.3,2196.7 L1064.0,2189.0 L1065.7,2197.5 L1067.3,2209.1 L1069.0,2222.7 L1070.7,2238.1 L1072.3,2255.2 L1074.0,2273.9 L1075.7,2294.1 L1077.3,2315.7 L1079.0,2338.6 L1080.7,2362.9 L1082.3,2388.4 L1084.0,2415.0 L1085.7,2442.8 L1087.3,2471.5 L1089.0,2501.2 L1090.7,2531.7 L1092.3,2563.0 L1094.0,2595.0 L1095.7,2627.7 L1097.3,2660.8 L1099.0,2694.4 L1100.7,2728.4 L1102.3,2762.6 L1104.0,2797.0 L1105.7,2768.5 L1107.3,2740.2 L1109.0,2712.1 L1110.7,2684.3 L1112.3,2656.9 L1114.0,2629.9 L1115.7,2603.4 L1117.3,2577.5 L1119.0,2552.3 L1120.7,2527.7 L1122.3,2503.9 L1124.0,2481.0 L1125.7,2459.0 L1127.3,2437.9 L1129.0,2417.8 L1130.7,2398.8 L1132.3,2380.9 L1134.0,2364.2 L1135.7,2348.8 L1137.3,2334.6 L1139.0,2321.8 L1140.7,2310.6 L1142.3,2301.0 L1144.0,2294.0 L1147.0,2300.6 L1149.9,2309.6 L1152.9,2320.2 L1155.8,2332.3 L1158.8,2345.6 L1161.8,2360.2 L1164.7,2375.9 L1167.7,2392.7 L1170.6,2410.7 L1173.6,2429.6 L1176.5,2449.4 L1179.5,2470.2 L1182.5,2491.8 L1185.4,2514.2 L1188.4,2537.4 L1191.3,2561.2 L1194.3,2585.6 L1197.2,2610.5 L1200.2,2636.0 L1203.2,2661.8 L1206.1,2688.0 L1209.1,2714.5 L1212.0,2741.2 L1215.0,2768.0 L1215.3,2757.9 L1215.6,2747.9 L1215.9,2738.0 L1216.2,2728.1 L1216.5,2718.4 L1216.8,2708.9 L1217.0,2699.5 L1217.3,2690.3 L1217.6,2681.4 L1217.9,2672.7 L1218.2,2664.3 L1218.5,2656.2 L1218.8,2648.4 L1219.1,2640.9 L1219.4,2633.8 L1219.7,2627.1 L1220.0,2620.8 L1220.2,2614.8 L1220.5,2609.4 L1220.8,2604.4 L1221.1,2599.9 L1221.4,2595.9 L1221.7,2592.5 L1222.0,2590.0" fill="none" stroke="#0072bd" stroke-width="9" stroke-linejoin="round"/>
<rect x="1512" y="2000" width="864" height="851.5" fill="none" stroke="#1a1a1a" stroke-width="6"/>
<path d="M1598,2851.5 v-9 M1598,2000 v9 M1685,2851.5 v-9 M1685,2000 v9 M1772,2851.5 v-9 M1772,2000 v9 M1858,2851.5 v-9 M1858,2000 v9 M1944,2851.5 v-9 M1944,2000 v9 M2031,2851.5 v-9 M2031,2000 v9 M2118,2851.5 v-9 M2118,2000 v9 M2204,2851.5 v-9 M2204,2000 v9 M2290,2851.5 v-9 M2290,2000 v9 M1512,2636 h9 M2376,2636 h-9 M1512,2424 h9 M2376,2424 h-9 M1512,2212 h9 M2376,2212 h-9 " stroke="#1a1a1a" stroke-width="5" fill="none"/>
<g font-family="Liberation Sans, Arial, sans-serif" font-weight="bold" font-size="51" fill="#111">
<text x="1598" y="2923" text-anchor="middle">2010</text>
<text x="1772" y="2923" text-anchor="middle">2012</text>
<text x="1944" y="2923" text-anchor="middle">2014</text>
<text x="2118" y="2923" text-anchor="middle">2016</text>
<text x="2290" y="2923" text-anchor="middle">2018</text>
<text x="1492" y="2018" text-anchor="end">200</text>
<text x="1492" y="2231" text-anchor="end">100</text>
<text x="1492" y="2444" text-anchor="end">0</text>
<text x="1492" y="2657" text-anchor="end">−100</text>
<text x="1492" y="2870" text-anchor="end">−200</text>
<text x="1943" y="1984" text-anchor="middle" textLength="687" lengthAdjust="spacingAndGlyphs">Principal Component Phase</text>
</g>
<text x="1889" y="1888" font-family="Liberation Sans, Arial, sans-serif" font-weight="bold" font-size="80" fill="#111" textLength="91" lengthAdjust="spacingAndGlyphs">(c)</text>
<path d="M1512.5,2254.9 L1552.4,2806.1 L1554.8,2043.8 L1559.5,2082.9 L1564.2,2043.8 L1566.1,2802.2 L1567.3,2657.6 L1580.2,2806.1 L1581.0,2043.8 L1641.6,2774.9 L1649.4,2765.1 L1657.2,2755.3 L1663.1,2806.1 L1663.1,2043.8 L1729.5,2806.1 L1729.5,2043.8 L1741.2,2129.8 L1753.0,2098.6 L1762.7,2145.5 L1815.5,2806.1 L1815.5,2043.8 L1825.3,2153.3 L1831.2,2047.7 L1835.1,2168.9 L1840.9,2043.8 L1899.6,2806.1 L1901.5,2043.8 L1907.4,2082.9 L1913.3,2043.8 L1915.2,2806.1 L1923.0,2043.8 L1903.9,2806.1 L1909.8,2043.8 L1913.7,2079.0 L1919.5,2043.8 L1921.5,2806.1 L1923.5,2043.8 L1988.0,2806.1 L1988.0,2043.8 L2007.5,2235.4 L2015.3,2075.1 L2077.9,2806.1 L2077.9,2043.8 L2085.7,2114.2 L2103.3,2137.6 L2111.1,2192.4 L2160.0,2806.1 L2160.0,2043.8 L2173.7,2157.2 L2183.4,2061.4 L2244.0,2806.1 L2244.0,2043.8 L2249.9,2079.0 L2253.8,2043.8 L2257.7,2806.1 L2263.6,2712.3 L2271.4,2806.1 L2271.4,2043.8 L2330.0,2806.1 L2330.0,2043.8 L2359.3,2348.7 L2376.2,2247.1" fill="none" stroke="#0072bd" stroke-width="7" stroke-linejoin="round"/>
<rect x="331" y="3020" width="2026" height="820" fill="none" stroke="#1a1a1a" stroke-width="6"/>
<path d="M503,3840 v-20 M503,3020 v20 M658,3840 v-20 M658,3020 v20 M831,3840 v-20 M831,3020 v20 M997,3840 v-20 M997,3020 v20 M1169,3840 v-20 M1169,3020 v20 M1336,3840 v-20 M1336,3020 v20 M1508,3840 v-20 M1508,3020 v20 M1680,3840 v-20 M1680,3020 v20 M1846,3840 v-20 M1846,3020 v20 M2018,3840 v-20 M2018,3020 v20 M2185,3840 v-20 M2185,3020 v20 M331,3156 h20 M2357,3156 h-20 M331,3384 h20 M2357,3384 h-20 M331,3612 h20 M2357,3612 h-20 " stroke="#1a1a1a" stroke-width="5" fill="none"/>
<g font-family="Liberation Sans, Arial, sans-serif" font-weight="bold" font-size="51" fill="#222">
<text x="331" y="3910" text-anchor="middle">Jan</text>
<text x="503" y="3910" text-anchor="middle">Feb</text>
<text x="658" y="3910" text-anchor="middle">Mar</text>
<text x="831" y="3910" text-anchor="middle">Apr</text>
<text x="997" y="3910" text-anchor="middle">May</text>
<text x="1169" y="3910" text-anchor="middle">Jun</text>
<text x="1336" y="3910" text-anchor="middle">Jul</text>
<text x="1508" y="3910" text-anchor="middle">Aug</text>
<text x="1680" y="3910" text-anchor="middle">Sep</text>
<text x="1846" y="3910" text-anchor="middle">Oct</text>
<text x="2018" y="3910" text-anchor="middle">Nov</text>
<text x="2185" y="3910" text-anchor="middle">Dec</text>
<text x="2357" y="3910" text-anchor="middle">Jan</text>
<text x="312" y="3174" text-anchor="end">0.05</text>
<text x="312" y="3402" text-anchor="end">0</text>
<text x="312" y="3630" text-anchor="end">−0.05</text>
<text x="312" y="3858" text-anchor="end">−0.1</text>
<text x="1344" y="3978" text-anchor="middle">Time</text>
<text x="1341" y="3008" text-anchor="middle" font-size="50">CEOF 1</text>
</g>
<text transform="translate(133,3460) rotate(-90)" text-anchor="middle" font-family="Liberation Sans, Arial, sans-serif" font-weight="bold" font-size="60" fill="#111" textLength="691" lengthAdjust="spacingAndGlyphs">Reconstructed SSHA (m)</text>
<text x="2174" y="3145" font-family="Liberation Sans, Arial, sans-serif" font-weight="bold" font-size="96" fill="#111" textLength="104" lengthAdjust="spacingAndGlyphs">(d)</text>
<path d="M331.0,3648.3 L344.6,3663.3 L358.2,3677.3 L371.8,3690.4 L385.4,3702.6 L399.0,3713.6 L412.6,3723.6 L426.2,3732.4 L439.8,3740.0 L453.4,3746.3 L467.0,3751.2 L480.6,3754.8 L494.2,3756.9 L507.8,3757.4 L521.4,3756.4 L535.0,3753.8 L548.6,3749.4 L562.2,3743.3 L575.8,3735.4 L589.3,3725.6 L602.9,3713.9 L616.5,3700.2 L630.1,3684.9 L643.7,3667.8 L657.3,3649.4 L670.9,3629.6 L684.5,3608.6 L698.1,3586.7 L711.7,3563.8 L725.3,3540.3 L738.9,3516.1 L752.5,3491.6 L766.1,3466.8 L779.7,3441.9 L793.3,3417.2 L806.9,3392.6 L820.5,3368.5 L834.1,3345.0 L847.7,3322.2 L861.3,3300.1 L874.9,3278.8 L888.5,3258.3 L902.1,3238.7 L915.7,3219.9 L929.3,3202.1 L942.9,3185.1 L956.5,3169.2 L970.1,3154.2 L983.7,3140.3 L997.3,3127.4 L1010.9,3115.6 L1024.5,3105.0 L1038.1,3095.5 L1051.7,3087.2 L1065.3,3080.1 L1078.9,3074.3 L1092.4,3069.8 L1106.0,3066.7 L1119.6,3064.8 L1133.2,3064.4 L1146.8,3065.3 L1160.4,3067.8 L1174.0,3071.7 L1187.6,3077.1 L1201.2,3083.9 L1214.8,3092.0 L1228.4,3101.1 L1242.0,3111.3 L1255.6,3122.2 L1269.2,3133.8 L1282.8,3146.0 L1296.4,3158.5 L1310.0,3171.3 L1323.6,3184.2 L1337.2,3197.1 L1350.8,3209.9 L1364.4,3222.7 L1378.0,3235.4 L1391.6,3247.8 L1405.2,3260.1 L1418.8,3272.1 L1432.4,3283.7 L1446.0,3294.9 L1459.6,3305.7 L1473.2,3315.9 L1486.8,3325.5 L1500.4,3334.4 L1514.0,3342.5 L1527.6,3349.9 L1541.2,3356.3 L1554.8,3361.9 L1568.4,3366.4 L1582.0,3370.1 L1595.6,3372.8 L1609.1,3374.7 L1622.7,3375.8 L1636.3,3376.1 L1649.9,3375.6 L1663.5,3374.5 L1677.1,3372.6 L1690.7,3370.1 L1704.3,3367.0 L1717.9,3363.3 L1731.5,3359.3 L1745.1,3354.9 L1758.7,3350.4 L1772.3,3345.8 L1785.9,3341.3 L1799.5,3336.9 L1813.1,3332.8 L1826.7,3328.9 L1840.3,3325.4 L1853.9,3322.2 L1867.5,3319.3 L1881.1,3316.9 L1894.7,3314.9 L1908.3,3313.3 L1921.9,3312.2 L1935.5,3311.7 L1949.1,3311.7 L1962.7,3312.4 L1976.3,3313.9 L1989.9,3316.1 L2003.5,3319.2 L2017.1,3323.2 L2030.7,3328.2 L2044.3,3334.3 L2057.9,3341.4 L2071.5,3349.7 L2085.1,3359.0 L2098.7,3369.2 L2112.2,3380.3 L2125.8,3392.1 L2139.4,3404.6 L2153.0,3417.8 L2166.6,3431.5 L2180.2,3445.7 L2193.8,3460.2 L2207.4,3475.0 L2221.0,3490.1 L2234.6,3505.3 L2248.2,3520.6 L2261.8,3535.9 L2275.4,3551.1 L2289.0,3566.2 L2302.6,3581.0 L2316.2,3595.5 L2329.8,3609.6 L2343.4,3623.2 L2357.0,3636.3" fill="none" stroke="#0072bd" stroke-width="7" stroke-linejoin="round"/>
<path d="M331.0,3668.4 L344.6,3684.5 L358.2,3699.5 L371.8,3713.5 L385.4,3726.3 L399.0,3737.9 L412.6,3748.2 L426.2,3757.2 L439.8,3764.9 L453.4,3771.1 L467.0,3775.9 L480.6,3779.1 L494.2,3780.8 L507.8,3780.8 L521.4,3779.0 L535.0,3775.6 L548.6,3770.3 L562.2,3763.1 L575.8,3754.1 L589.3,3743.0 L602.9,3729.9 L616.5,3714.8 L630.1,3697.9 L643.7,3679.3 L657.3,3659.2 L670.9,3637.8 L684.5,3615.3 L698.1,3591.8 L711.7,3567.5 L725.3,3542.6 L738.9,3517.3 L752.5,3491.6 L766.1,3465.8 L779.7,3440.0 L793.3,3414.2 L806.9,3388.7 L820.5,3363.5 L834.1,3338.7 L847.7,3314.5 L861.3,3291.0 L874.9,3268.1 L888.5,3246.0 L902.1,3224.6 L915.7,3204.2 L929.3,3184.6 L942.9,3166.1 L956.5,3148.6 L970.1,3132.2 L983.7,3116.9 L997.3,3102.9 L1010.9,3090.2 L1024.5,3078.8 L1038.1,3068.8 L1051.7,3060.3 L1065.3,3053.3 L1078.9,3047.7 L1092.4,3043.7 L1106.0,3041.1 L1119.6,3040.0 L1133.2,3040.3 L1146.8,3042.0 L1160.4,3045.2 L1174.0,3049.7 L1187.6,3055.6 L1201.2,3062.7 L1214.8,3071.0 L1228.4,3080.2 L1242.0,3090.4 L1255.6,3101.4 L1269.2,3113.2 L1282.8,3125.6 L1296.4,3138.5 L1310.0,3151.8 L1323.6,3165.5 L1337.2,3179.4 L1350.8,3193.4 L1364.4,3207.4 L1378.0,3221.4 L1391.6,3235.3 L1405.2,3248.9 L1418.8,3262.1 L1432.4,3274.9 L1446.0,3287.2 L1459.6,3299.0 L1473.2,3310.1 L1486.8,3320.5 L1500.4,3330.2 L1514.0,3338.9 L1527.6,3346.7 L1541.2,3353.5 L1554.8,3359.3 L1568.4,3364.1 L1582.0,3368.0 L1595.6,3371.0 L1609.1,3373.0 L1622.7,3374.3 L1636.3,3374.8 L1649.9,3374.5 L1663.5,3373.5 L1677.1,3371.8 L1690.7,3369.4 L1704.3,3366.5 L1717.9,3363.2 L1731.5,3359.4 L1745.1,3355.4 L1758.7,3351.0 L1772.3,3346.6 L1785.9,3342.0 L1799.5,3337.5 L1813.1,3333.0 L1826.7,3328.6 L1840.3,3324.5 L1853.9,3320.7 L1867.5,3317.3 L1881.1,3314.3 L1894.7,3311.9 L1908.3,3310.0 L1921.9,3308.8 L1935.5,3308.3 L1949.1,3308.4 L1962.7,3309.4 L1976.3,3311.3 L1989.9,3314.1 L2003.5,3317.8 L2017.1,3322.5 L2030.7,3328.3 L2044.3,3335.0 L2057.9,3342.6 L2071.5,3351.2 L2085.1,3360.7 L2098.7,3371.0 L2112.2,3382.1 L2125.8,3394.0 L2139.4,3406.6 L2153.0,3420.0 L2166.6,3434.1 L2180.2,3448.7 L2193.8,3463.8 L2207.4,3479.4 L2221.0,3495.2 L2234.6,3511.4 L2248.2,3527.7 L2261.8,3544.1 L2275.4,3560.4 L2289.0,3576.8 L2302.6,3592.9 L2316.2,3608.8 L2329.8,3624.4 L2343.4,3639.6 L2357.0,3654.4" fill="none" stroke="#d95319" stroke-width="7" stroke-linejoin="round"/>
<path d="M331.0,3498.1 L344.6,3511.8 L358.2,3524.7 L371.8,3536.8 L385.4,3548.1 L399.0,3558.5 L412.6,3568.0 L426.2,3576.7 L439.8,3584.6 L453.4,3591.5 L467.0,3597.6 L480.6,3602.8 L494.2,3607.1 L507.8,3610.5 L521.4,3613.0 L535.0,3614.6 L548.6,3615.2 L562.2,3615.0 L575.8,3613.8 L589.3,3611.7 L602.9,3608.6 L616.5,3604.6 L630.1,3599.6 L643.7,3593.7 L657.3,3586.9 L670.9,3579.3 L684.5,3570.9 L698.1,3561.8 L711.7,3552.1 L725.3,3541.7 L738.9,3530.8 L752.5,3519.4 L766.1,3507.5 L779.7,3495.2 L793.3,3482.6 L806.9,3469.7 L820.5,3456.6 L834.1,3443.2 L847.7,3429.8 L861.3,3416.2 L874.9,3402.6 L888.5,3389.1 L902.1,3375.6 L915.7,3362.3 L929.3,3349.2 L942.9,3336.3 L956.5,3323.7 L970.1,3311.4 L983.7,3299.6 L997.3,3288.3 L1010.9,3277.4 L1024.5,3267.2 L1038.1,3257.6 L1051.7,3248.6 L1065.3,3240.5 L1078.9,3233.1 L1092.4,3226.5 L1106.0,3220.9 L1119.6,3216.3 L1133.2,3212.6 L1146.8,3210.0 L1160.4,3208.5 L1174.0,3208.0 L1187.6,3208.4 L1201.2,3209.7 L1214.8,3211.8 L1228.4,3214.6 L1242.0,3218.1 L1255.6,3222.1 L1269.2,3226.8 L1282.8,3231.9 L1296.4,3237.4 L1310.0,3243.2 L1323.6,3249.3 L1337.2,3255.7 L1350.8,3262.2 L1364.4,3268.7 L1378.0,3275.3 L1391.6,3281.9 L1405.2,3288.4 L1418.8,3294.8 L1432.4,3301.1 L1446.0,3307.3 L1459.6,3313.3 L1473.2,3319.1 L1486.8,3324.7 L1500.4,3330.0 L1514.0,3335.1 L1527.6,3339.8 L1541.2,3344.3 L1554.8,3348.3 L1568.4,3351.9 L1582.0,3355.2 L1595.6,3358.0 L1609.1,3360.3 L1622.7,3362.0 L1636.3,3363.3 L1649.9,3364.0 L1663.5,3364.1 L1677.1,3363.7 L1690.7,3362.8 L1704.3,3361.5 L1717.9,3359.8 L1731.5,3357.7 L1745.1,3355.4 L1758.7,3352.9 L1772.3,3350.2 L1785.9,3347.3 L1799.5,3344.3 L1813.1,3341.4 L1826.7,3338.4 L1840.3,3335.5 L1853.9,3332.8 L1867.5,3330.2 L1881.1,3327.8 L1894.7,3325.6 L1908.3,3323.7 L1921.9,3322.1 L1935.5,3320.8 L1949.1,3319.8 L1962.7,3319.2 L1976.3,3318.9 L1989.9,3319.0 L2003.5,3319.5 L2017.1,3320.5 L2030.7,3321.9 L2044.3,3323.8 L2057.9,3326.1 L2071.5,3329.0 L2085.1,3332.4 L2098.7,3336.4 L2112.2,3341.0 L2125.8,3346.2 L2139.4,3352.0 L2153.0,3358.4 L2166.6,3365.4 L2180.2,3373.0 L2193.8,3381.0 L2207.4,3389.5 L2221.0,3398.2 L2234.6,3407.2 L2248.2,3416.3 L2261.8,3425.6 L2275.4,3434.9 L2289.0,3444.2 L2302.6,3453.3 L2316.2,3462.3 L2329.8,3471.0 L2343.4,3479.5 L2357.0,3487.5" fill="none" stroke="#edb120" stroke-width="7" stroke-linejoin="round"/>
<path d="M331.0,3472.4 L344.6,3488.8 L358.2,3504.8 L371.8,3520.3 L385.4,3535.3 L399.0,3549.7 L412.6,3563.4 L426.2,3576.6 L439.8,3589.0 L453.4,3600.7 L467.0,3611.6 L480.6,3621.6 L494.2,3630.9 L507.8,3639.2 L521.4,3646.6 L535.0,3652.9 L548.6,3658.3 L562.2,3662.6 L575.8,3665.8 L589.3,3667.9 L602.9,3668.7 L616.5,3668.4 L630.1,3666.8 L643.7,3663.9 L657.3,3659.9 L670.9,3654.6 L684.5,3648.2 L698.1,3640.6 L711.7,3631.8 L725.3,3622.0 L738.9,3611.0 L752.5,3598.9 L766.1,3585.7 L779.7,3571.5 L793.3,3556.5 L806.9,3540.8 L820.5,3524.5 L834.1,3507.8 L847.7,3490.8 L861.3,3473.8 L874.9,3456.7 L888.5,3439.7 L902.1,3422.9 L915.7,3406.3 L929.3,3390.0 L942.9,3374.1 L956.5,3358.6 L970.1,3343.6 L983.7,3329.1 L997.3,3315.0 L1010.9,3301.4 L1024.5,3288.2 L1038.1,3275.7 L1051.7,3263.7 L1065.3,3252.4 L1078.9,3242.0 L1092.4,3232.3 L1106.0,3223.6 L1119.6,3215.8 L1133.2,3209.1 L1146.8,3203.5 L1160.4,3199.0 L1174.0,3195.5 L1187.6,3193.1 L1201.2,3191.6 L1214.8,3191.0 L1228.4,3191.3 L1242.0,3192.4 L1255.6,3194.2 L1269.2,3196.8 L1282.8,3200.0 L1296.4,3203.8 L1310.0,3208.1 L1323.6,3212.9 L1337.2,3218.2 L1350.8,3223.9 L1364.4,3229.9 L1378.0,3236.2 L1391.6,3242.8 L1405.2,3249.5 L1418.8,3256.4 L1432.4,3263.4 L1446.0,3270.4 L1459.6,3277.4 L1473.2,3284.3 L1486.8,3291.2 L1500.4,3297.9 L1514.0,3304.4 L1527.6,3310.6 L1541.2,3316.5 L1554.8,3322.1 L1568.4,3327.3 L1582.0,3332.0 L1595.6,3336.2 L1609.1,3339.9 L1622.7,3343.0 L1636.3,3345.4 L1649.9,3347.1 L1663.5,3348.1 L1677.1,3348.4 L1690.7,3347.9 L1704.3,3346.9 L1717.9,3345.2 L1731.5,3343.1 L1745.1,3340.6 L1758.7,3337.6 L1772.3,3334.4 L1785.9,3330.9 L1799.5,3327.2 L1813.1,3323.4 L1826.7,3319.6 L1840.3,3315.7 L1853.9,3312.0 L1867.5,3308.3 L1881.1,3304.8 L1894.7,3301.6 L1908.3,3298.5 L1921.9,3295.7 L1935.5,3293.3 L1949.1,3291.1 L1962.7,3289.3 L1976.3,3287.8 L1989.9,3286.7 L2003.5,3286.1 L2017.1,3285.8 L2030.7,3286.1 L2044.3,3286.8 L2057.9,3288.1 L2071.5,3289.9 L2085.1,3292.3 L2098.7,3295.3 L2112.2,3298.9 L2125.8,3303.1 L2139.4,3308.0 L2153.0,3313.7 L2166.6,3320.0 L2180.2,3326.9 L2193.8,3334.5 L2207.4,3342.6 L2221.0,3351.3 L2234.6,3360.4 L2248.2,3370.1 L2261.8,3380.1 L2275.4,3390.6 L2289.0,3401.4 L2302.6,3412.6 L2316.2,3424.0 L2329.8,3435.7 L2343.4,3447.6 L2357.0,3459.6" fill="none" stroke="#7e2f8e" stroke-width="7" stroke-linejoin="round"/>
<path d="M331.0,3444.9 L344.6,3452.2 L358.2,3458.9 L371.8,3465.1 L385.4,3470.8 L399.0,3476.0 L412.6,3480.7 L426.2,3484.9 L439.8,3488.6 L453.4,3491.8 L467.0,3494.4 L480.6,3496.6 L494.2,3498.3 L507.8,3499.5 L521.4,3500.2 L535.0,3500.5 L548.6,3500.2 L562.2,3499.5 L575.8,3498.2 L589.3,3496.5 L602.9,3494.4 L616.5,3491.7 L630.1,3488.6 L643.7,3485.0 L657.3,3481.0 L670.9,3476.6 L684.5,3471.9 L698.1,3466.8 L711.7,3461.4 L725.3,3455.7 L738.9,3449.8 L752.5,3443.7 L766.1,3437.4 L779.7,3430.9 L793.3,3424.3 L806.9,3417.6 L820.5,3410.8 L834.1,3404.0 L847.7,3397.2 L861.3,3390.4 L874.9,3383.6 L888.5,3376.9 L902.1,3370.3 L915.7,3363.9 L929.3,3357.5 L942.9,3351.4 L956.5,3345.4 L970.1,3339.6 L983.7,3334.1 L997.3,3328.8 L1010.9,3323.8 L1024.5,3319.1 L1038.1,3314.7 L1051.7,3310.7 L1065.3,3307.1 L1078.9,3303.9 L1092.4,3301.1 L1106.0,3298.8 L1119.6,3296.9 L1133.2,3295.6 L1146.8,3294.7 L1160.4,3294.4 L1174.0,3294.6 L1187.6,3295.2 L1201.2,3296.2 L1214.8,3297.6 L1228.4,3299.3 L1242.0,3301.4 L1255.6,3303.8 L1269.2,3306.4 L1282.8,3309.2 L1296.4,3312.2 L1310.0,3315.4 L1323.6,3318.7 L1337.2,3322.1 L1350.8,3325.5 L1364.4,3329.0 L1378.0,3332.5 L1391.6,3335.9 L1405.2,3339.3 L1418.8,3342.6 L1432.4,3345.8 L1446.0,3349.0 L1459.6,3352.0 L1473.2,3355.0 L1486.8,3357.8 L1500.4,3360.4 L1514.0,3362.9 L1527.6,3365.3 L1541.2,3367.4 L1554.8,3369.3 L1568.4,3371.0 L1582.0,3372.5 L1595.6,3373.8 L1609.1,3374.8 L1622.7,3375.5 L1636.3,3375.9 L1649.9,3376.0 L1663.5,3375.8 L1677.1,3375.3 L1690.7,3374.6 L1704.3,3373.7 L1717.9,3372.6 L1731.5,3371.3 L1745.1,3369.9 L1758.7,3368.4 L1772.3,3366.8 L1785.9,3365.2 L1799.5,3363.6 L1813.1,3362.0 L1826.7,3360.5 L1840.3,3359.1 L1853.9,3357.8 L1867.5,3356.6 L1881.1,3355.6 L1894.7,3354.8 L1908.3,3354.1 L1921.9,3353.7 L1935.5,3353.4 L1949.1,3353.4 L1962.7,3353.5 L1976.3,3353.9 L1989.9,3354.4 L2003.5,3355.1 L2017.1,3356.1 L2030.7,3357.3 L2044.3,3358.7 L2057.9,3360.3 L2071.5,3362.1 L2085.1,3364.2 L2098.7,3366.5 L2112.2,3369.0 L2125.8,3371.8 L2139.4,3374.8 L2153.0,3378.0 L2166.6,3381.5 L2180.2,3385.2 L2193.8,3389.1 L2207.4,3393.2 L2221.0,3397.4 L2234.6,3401.8 L2248.2,3406.3 L2261.8,3410.9 L2275.4,3415.5 L2289.0,3420.3 L2302.6,3425.0 L2316.2,3429.9 L2329.8,3434.7 L2343.4,3439.5 L2357.0,3444.2" fill="none" stroke="#77ac30" stroke-width="7" stroke-linejoin="round"/>
<rect x="357" y="3054" width="345" height="337" fill="#fff" stroke="#1a1a1a" stroke-width="5"/>
<g font-family="Liberation Sans, Arial, sans-serif" font-weight="bold" font-size="51" fill="#111">
<path d="M372,3095 H475" stroke="#0072bd" stroke-width="7"/>
<text x="488" y="3113">Point 2</text>
<path d="M372,3160 H475" stroke="#d95319" stroke-width="7"/>
<text x="488" y="3178">Point 7</text>
<path d="M372,3225 H475" stroke="#edb120" stroke-width="7"/>
<text x="488" y="3243">Point 12</text>
<path d="M372,3290 H475" stroke="#7e2f8e" stroke-width="7"/>
<text x="488" y="3308">Point 17</text>
<path d="M372,3355 H475" stroke="#77ac30" stroke-width="7"/>
<text x="488" y="3373">Point 22</text>
</g>
</svg></body></html>
